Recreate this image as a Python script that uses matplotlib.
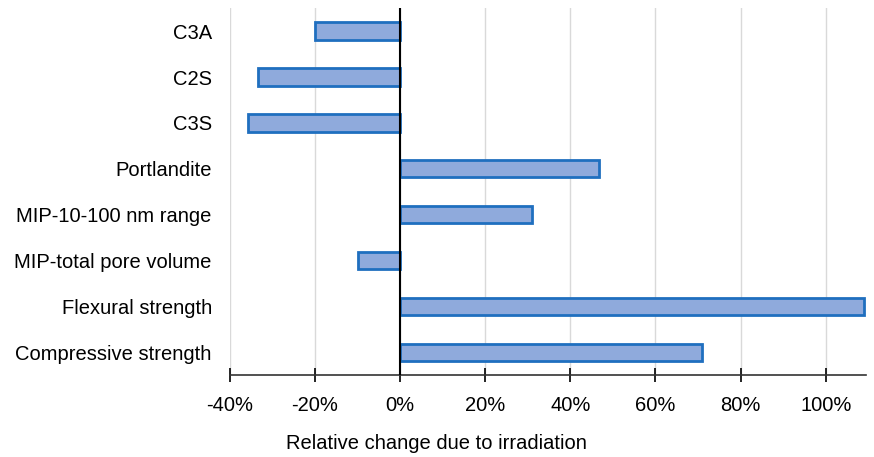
import matplotlib.pyplot as plt
from matplotlib.ticker import FuncFormatter

labels = ["C3A", "C2S", "C3S", "Portlandite", "MIP-10-100 nm range",
          "MIP-total pore volume", "Flexural strength", "Compressive strength"]
values = [-20.0, -33.5, -35.8, 46.8, 31.0, -10.0, 109.0, 71.0]
xticks = [-40, -20, 0, 20, 40, 60, 80, 100]

plt.rcParams['font.family'] = ['Liberation Sans', 'DejaVu Sans']

fig = plt.figure(figsize=(8.74, 4.57), dpi=100)
ax = fig.add_axes([0.263, 0.179, 0.728, 0.803])

pos = list(range(len(labels)))
ax.barh(pos, values, height=0.38, color='#8FAADC', edgecolor='#1F6FBF',
        linewidth=2.0, zorder=3)
ax.axvline(0, color='black', linewidth=1.5, zorder=4)

ax.set_ylim(len(labels) - 0.5, -0.5)
ax.set_yticks(pos)
ax.set_yticklabels(labels, fontsize=14.5)
ax.tick_params(axis='y', length=0, pad=13)

ax.set_xlim(-40, 109.5)
ax.set_xticks(xticks)
ax.xaxis.set_major_formatter(FuncFormatter(lambda v, p: '%d%%' % round(v)))
ax.tick_params(axis='x', direction='inout', length=10, width=1.2,
               labelsize=14.5, pad=10)
ax.grid(axis='x', color='#D9D9D9', linewidth=1, zorder=0)

for s in ['top', 'right', 'left']:
    ax.spines[s].set_visible(False)
ax.spines['bottom'].set_linewidth(1.2)
ax.spines['bottom'].set_color('#333333')

ax.set_xlabel('Relative change due to irradiation', fontsize=14.5)
ax.xaxis.set_label_coords(0.325, -0.16)

fig.savefig('out.png', dpi=100)
